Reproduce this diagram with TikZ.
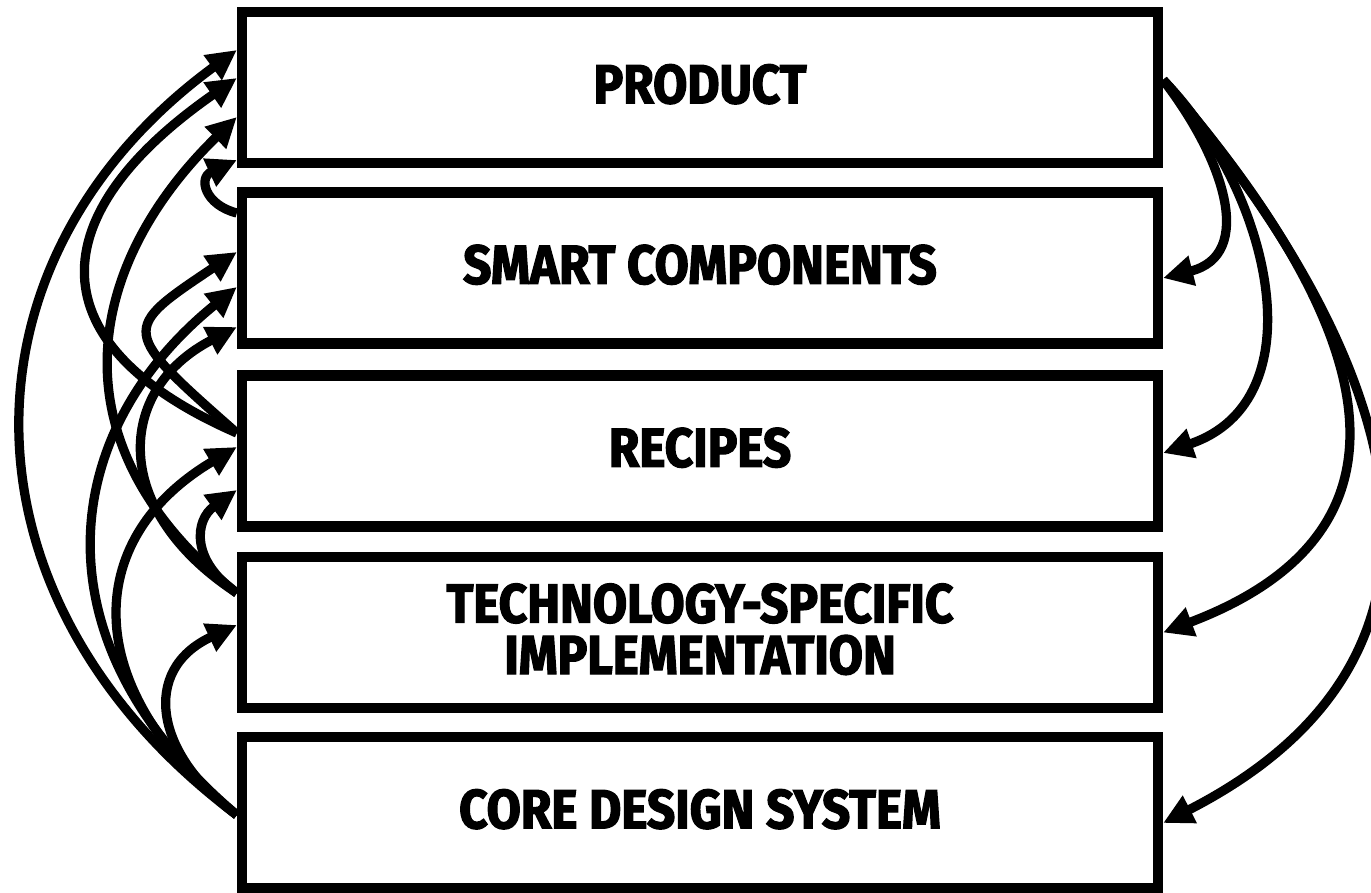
\documentclass[tikz,border=0pt]{standalone}
\usepackage{fontspec}
\newfontfamily\labfont{Fira Sans}[UprightFont={* Bold}, FakeStretch=0.9, FakeBold=2.4]
\usetikzlibrary{arrows.meta}
\begin{document}
\begin{tikzpicture}[x=0.02cm,y=-0.02cm,
  box/.style={draw, line width=0.21cm, minimum width=18.32cm, minimum height=3.02cm,
    inner sep=0pt, align=center, text depth=0.15cm,
    font=\labfont\fontsize{31.3}{31.3}\selectfont},
  arr/.style={line width=0.185cm, -{Triangle[length=0.6cm,width=0.58cm]}}]
\useasboundingbox (0,0) rectangle (1371,892);
\fill[white] (0,0) rectangle (1371,892);
\node[box] (P) at (700,87.5) {PRODUCT};
\node[box] (S) at (700,268) {SMART COMPONENTS};
\node[box] (R) at (700,451) {RECIPES};
\node[box] (T) at (700,632.5) {TECHNOLOGY-SPECIFIC\\[-2pt]IMPLEMENTATION};
\node[box] (C) at (700,812.5) {CORE DESIGN SYSTEM};
% left side: lower boxes to upper boxes
\draw[arr] ([shift={(0,-55)}]S.west) .. controls (205,205) and (198,178) .. ([shift={(0,72.5)}]P.west);
\draw[arr] ([shift={(0,-18)}]R.west) .. controls (35,345) and (40,215) .. ([shift={(0,-9.5)}]P.west);
\draw[arr] ([shift={(0,-18)}]R.west) .. controls (120,330) and (120,330) .. ([shift={(0,-16)}]S.west);
\draw[arr] ([shift={(0,-39.5)}]T.west) .. controls (45,440) and (90,260) .. ([shift={(0,29.5)}]P.west);
\draw[arr] ([shift={(0,-39.5)}]T.west) .. controls (110,510) and (115,390) .. ([shift={(0,59)}]S.west);
\draw[arr] ([shift={(0,-39.5)}]T.west) .. controls (190,560) and (195,520) .. ([shift={(0,39)}]R.west);
\draw[arr] ([shift={(0,2.5)}]C.west) .. controls (-50,600) and (-50,260) .. ([shift={(0,-37.5)}]P.west);
\draw[arr] ([shift={(0,2.5)}]C.west) .. controls (30,640) and (60,430) .. ([shift={(0,19)}]S.west);
\draw[arr] ([shift={(0,2.5)}]C.west) .. controls (80,690) and (80,540) .. ([shift={(0,-4)}]R.west);
\draw[arr] ([shift={(0,2.5)}]C.west) .. controls (155,755) and (140,670) .. ([shift={(0,-7.5)}]T.west);
% right side: product to lower boxes
\draw[arr] ([shift={(0,-7.5)}]P.east) .. controls (1225,160) and (1255,255) .. ([shift={(0,10)}]S.east);
\draw[arr] ([shift={(0,-7.5)}]P.east) .. controls (1270,190) and (1320,400) .. ([shift={(0,2)}]R.east);
\draw[arr] ([shift={(0,-7.5)}]P.east) .. controls (1345,290) and (1460,520) .. ([shift={(0,0)}]T.east);
\draw[arr] ([shift={(0,-7.5)}]P.east) .. controls (1345,290) and (1540,630) .. ([shift={(0,10.5)}]C.east);
\end{tikzpicture}
\end{document}
